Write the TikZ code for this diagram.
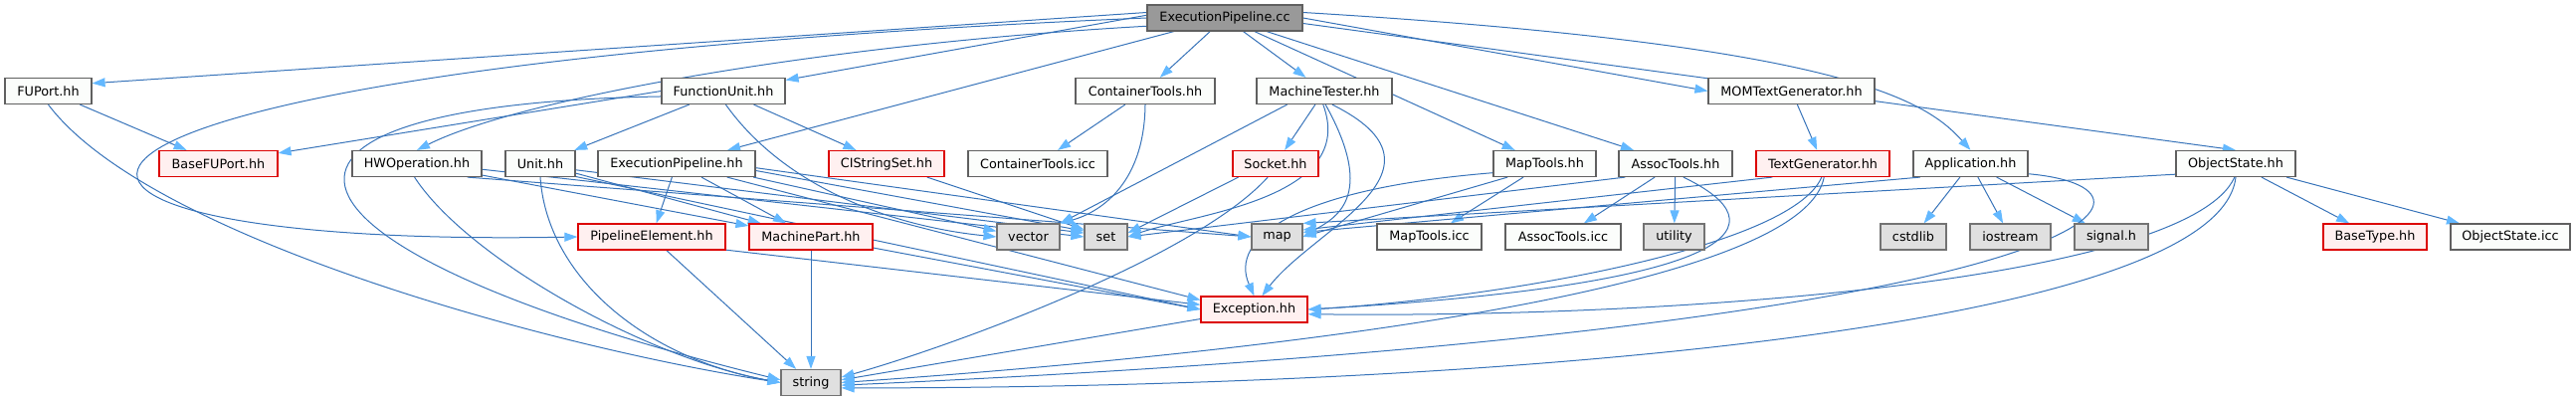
\documentclass[tikz,border=0pt]{standalone}
\usepackage{fontspec}
\setmainfont{DejaVu Sans}
\usetikzlibrary{arrows.meta}

\definecolor{edgeblue}{RGB}{55,115,185}
\definecolor{tipblue}{RGB}{99,184,255}
\definecolor{boxline}{RGB}{96,96,96}
\definecolor{boxfill}{RGB}{251,253,251}
\definecolor{redline}{RGB}{220,0,0}
\definecolor{redfill}{RGB}{255,240,240}
\definecolor{sysline}{RGB}{115,115,115}
\definecolor{sysfill}{RGB}{224,224,224}
\definecolor{rootfill}{RGB}{153,153,153}

\pgfdeclarelayer{edges}
\pgfsetlayers{edges,main}

\tikzset{
  hdr/.style={draw=boxline, fill=boxfill, line width=1.2pt, minimum height=26,
    inner sep=0pt, font=\fontsize{12.8}{14}\selectfont},
  redhdr/.style={hdr, draw=redline, fill=redfill},
  syshdr/.style={hdr, draw=sysline, fill=sysfill},
  roothdr/.style={hdr, fill=rootfill},
  dep/.style={edgeblue, line width=1pt,
    -{Triangle[length=13pt,width=9pt,color=tipblue]}}
}

\begin{document}
\begin{tikzpicture}[x=1pt,y=-1pt]
  \useasboundingbox (0,0) rectangle (2589,403);

  % top row
  \node[roothdr,minimum width=156] (root) at (1231,18) {ExecutionPipeline.cc};
  \node[hdr,minimum width=87] (fuport) at (48.5,91.5) {FUPort.hh};
  \node[hdr,minimum width=124] (funit) at (727,91.5) {FunctionUnit.hh};
  \node[hdr,minimum width=140] (cthh) at (1151,91.5) {ContainerTools.hh};
  \node[hdr,minimum width=136] (mtester) at (1331,91.5) {MachineTester.hh};
  \node[hdr,minimum width=167] (momgen) at (1800.5,91.5) {MOMTextGenerator.hh};
  % second row
  \node[redhdr,minimum width=119] (basefu) at (219.5,164.5) {BaseFUPort.hh};
  \node[hdr,minimum width=130] (hwop) at (419,164.5) {HWOperation.hh};
  \node[hdr,minimum width=70] (unit) at (543,164.5) {Unit.hh};
  \node[hdr,minimum width=158] (ephh) at (680,164.5) {ExecutionPipeline.hh};
  \node[redhdr,minimum width=116] (cistr) at (891,164.5) {CIStringSet.hh};
  \node[hdr,minimum width=140] (cticc) at (1043,164.5) {ContainerTools.icc};
  \node[redhdr,minimum width=86] (socket) at (1282,164.5) {Socket.hh};
  \node[hdr,minimum width=103] (maptools) at (1552.5,164.5) {MapTools.hh};
  \node[hdr,minimum width=114] (assoc) at (1684,164.5) {AssocTools.hh};
  \node[redhdr,minimum width=134] (textgen) at (1832,164.5) {TextGenerator.hh};
  \node[hdr,minimum width=115] (app) at (1980.5,164.5) {Application.hh};
  \node[hdr,minimum width=120] (ostate) at (2247,164.5) {ObjectState.hh};
  % third row
  \node[redhdr,minimum width=148] (pelem) at (655,238) {PipelineElement.hh};
  \node[redhdr,minimum width=124] (mpart) at (815,238) {MachinePart.hh};
  \node[syshdr,minimum width=63] (vector) at (1033.5,238) {vector};
  \node[syshdr,minimum width=43] (set) at (1111.5,238) {set};
  \node[syshdr,minimum width=51] (map) at (1283.5,238) {map};
  \node[hdr,minimum width=105] (mapicc) at (1436.5,238) {MapTools.icc};
  \node[hdr,minimum width=116] (associcc) at (1571,238) {AssocTools.icc};
  \node[syshdr,minimum width=61] (utility) at (1682.5,238) {utility};
  \node[syshdr,minimum width=66] (cstdlib) at (1923,238) {cstdlib};
  \node[syshdr,minimum width=81] (iostream) at (2020.5,238) {iostream};
  \node[syshdr,minimum width=74] (signal) at (2122,238) {signal.h};
  \node[redhdr,minimum width=104] (basetype) at (2387,238) {BaseType.hh};
  \node[hdr,minimum width=120] (osicc) at (2523,238) {ObjectState.icc};
  % bottom
  \node[redhdr,minimum width=107] (exc) at (1260.5,311) {Exception.hh};
  \node[syshdr,minimum width=60] (string) at (815,384.5) {string};

  \begin{pgfonlayer}{edges}
    % ExecutionPipeline.cc
    \draw[dep] (root.176) -- (fuport.10);
    \draw[dep] (root.178) -- (funit.10);
    \draw[dep] (root.186) .. controls (820,45) and (520,100) .. (hwop.north);
    \draw[dep] (root) -- (ephh);
    \draw[dep] (root.west) .. controls (-80,70) and (-80,250) .. (pelem.west);
    \draw[dep] (root) -- (cthh);
    \draw[dep] (root) -- (mtester);
    \draw[dep] (root) -- (maptools);
    \draw[dep] (root) -- (assoc);
    \draw[dep] (root.east) -- (momgen.west);
    \draw[dep] (root.4) .. controls (1850,45) and (1935,100) .. (app.north);
    \draw[dep] (root.-4) -- (ostate.north);
    % FUPort.hh
    \draw[dep] (fuport) -- (basefu);
    \draw[dep] (fuport.south) .. controls (150,240) and (560,350) .. (string.west);
    % FunctionUnit.hh
    \draw[dep] (funit.west) -- (basefu.10);
    \draw[dep] (funit.185) .. controls (200,105) and (250,250) .. (string.175);
    \draw[dep] (funit) -- (unit);
    \draw[dep] (funit) -- (cistr);
    \draw[dep] (funit.-80) .. controls (790,190) and (900,228) .. (vector.west);
    % HWOperation.hh
    \draw[dep] (hwop.-100) .. controls (470,260) and (650,360) .. (string.west);
    \draw[dep] (hwop.-10) -- (mpart.170);
    \draw[dep] (hwop.-5) -- (set.west);
    \draw[dep] (hwop.-15) -- (map.west);
    % Unit.hh
    \draw[dep] (unit.south) .. controls (550,280) and (650,360) .. (string.west);
    \draw[dep] (unit) -- (mpart);
    \draw[dep] (unit.-10) -- (set.170);
    \draw[dep] (unit.-20) -- (exc.west);
    % ExecutionPipeline.hh
    \draw[dep] (ephh) -- (pelem);
    \draw[dep] (ephh) -- (mpart);
    \draw[dep] (ephh.-10) -- (vector.170);
    \draw[dep] (ephh.-5) -- (set.165);
    \draw[dep] (ephh.-3) -- (map.west);
    \draw[dep] (ephh.-15) -- (exc.170);
    % CIStringSet.hh
    \draw[dep] (cistr) -- (set);
    % ContainerTools.hh
    \draw[dep] (cthh) -- (cticc);
    \draw[dep] (cthh.south) .. controls (1150,190) and (1100,215) .. (vector.north east);
    % MachineTester.hh
    \draw[dep] (mtester) -- (socket);
    \draw[dep] (mtester.200) -- (vector.north east);
    \draw[dep] (mtester.-95) .. controls (1365,200) and (1200,215) .. (set.east);
    \draw[dep] (mtester.-85) .. controls (1385,200) and (1340,220) .. (map.east);
    \draw[dep] (mtester.-60) .. controls (1470,170) and (1320,230) .. (exc.60);
    % Socket.hh
    \draw[dep] (socket.200) -- (set.10);
    \draw[dep] (socket.-120) .. controls (1200,260) and (950,350) .. (string.10);
    % MapTools.hh
    \draw[dep] (maptools) -- (mapicc);
    \draw[dep] (maptools.200) -- (map.east);
    \draw[dep] (maptools.190) .. controls (1300,190) and (1235,240) .. (exc.north);
    % AssocTools.hh
    \draw[dep] (assoc) -- (associcc);
    \draw[dep] (assoc) -- (utility);
    \draw[dep] (assoc.195) -- (set.east);
    \draw[dep] (assoc.-60) .. controls (1790,225) and (1760,285) .. (exc.east);
    % MOMTextGenerator.hh
    \draw[dep] (momgen) -- (textgen);
    % TextGenerator.hh
    \draw[dep] (textgen.195) -- (map.15);
    \draw[dep] (textgen.-95) .. controls (1800,250) and (1500,300) .. (exc.east);
    \draw[dep] (textgen.-85) .. controls (1810,300) and (1200,360) .. (string.east);
    % Application.hh
    \draw[dep] (app) -- (cstdlib);
    \draw[dep] (app) -- (iostream);
    \draw[dep] (app) -- (signal);
    \draw[dep] (app.195) -- (map.10);
    \draw[dep] (app.-10) .. controls (2210,190) and (2120,330) .. (string.-5);
    % ObjectState.hh
    \draw[dep] (ostate) -- (basetype);
    \draw[dep] (ostate) -- (osicc);
    \draw[dep] (ostate.190) -- (map.north east);
    \draw[dep] (ostate.-95) .. controls (2200,280) and (1700,320) .. (exc.-5);
    \draw[dep] (ostate.-90) .. controls (2230,330) and (1500,390) .. (string.-10);
    % lower headers
    \draw[dep] (pelem) -- (string);
    \draw[dep] (pelem.-10) -- (exc.175);
    \draw[dep] (mpart) -- (string);
    \draw[dep] (mpart.-10) -- (exc.180);
    \draw[dep] (exc.190) -- (string.5);
  \end{pgfonlayer}
\end{tikzpicture}
\end{document}
